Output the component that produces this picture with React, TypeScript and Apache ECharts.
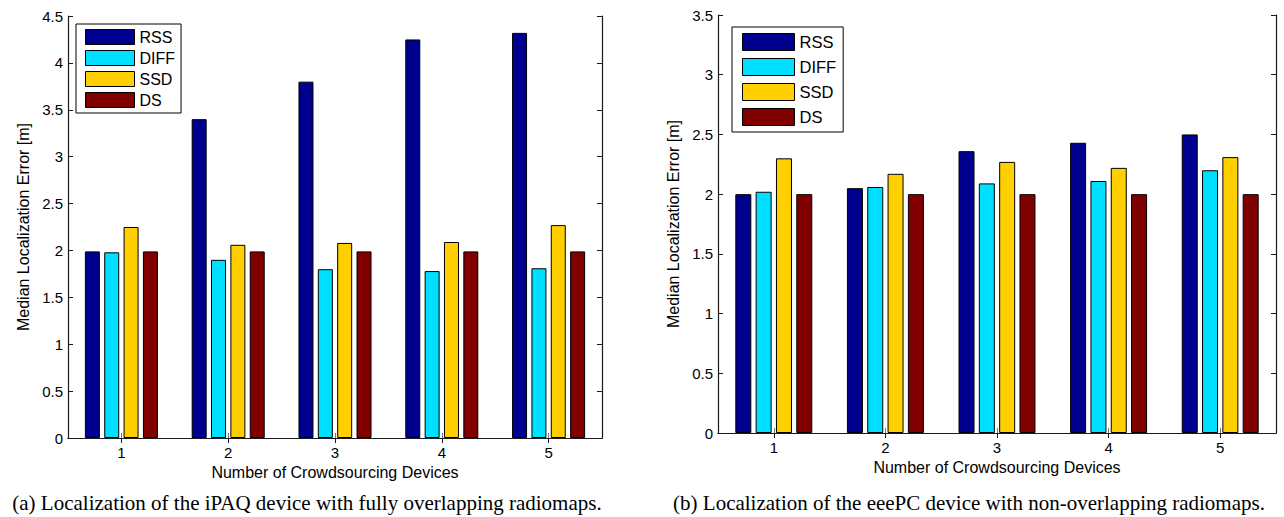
import React, { useEffect, useRef } from "react";
import * as echarts from "echarts";

const categories = ["1", "2", "3", "4", "5"];
const methodNames = ["RSS", "DIFF", "SSD", "DS"];
const methodColors = ["#00008F", "#00DFFF", "#FFCF00", "#800000"];

// (a) iPAQ device, fully overlapping radiomaps
const ipaqRSS = [1.99, 3.4, 3.8, 4.25, 4.32];
const ipaqDIFF = [1.98, 1.9, 1.8, 1.78, 1.81];
const ipaqSSD = [2.25, 2.06, 2.08, 2.09, 2.27];
const ipaqDS = [1.99, 1.99, 1.99, 1.99, 1.99];

// (b) eeePC device, non-overlapping radiomaps
const eeepcRSS = [2.0, 2.05, 2.36, 2.43, 2.5];
const eeepcDIFF = [2.02, 2.06, 2.09, 2.11, 2.2];
const eeepcSSD = [2.3, 2.17, 2.27, 2.22, 2.31];
const eeepcDS = [2.0, 2.0, 2.0, 2.0, 2.0];

const leftYMax = 4.5;
const rightYMax = 3.5;
const yStep = 0.5;

const xTitle = "Number of Crowdsourcing Devices";
const yTitle = "Median Localization Error [m]";
const captionA = "(a) Localization of the iPAQ device with fully overlapping radiomaps.";
const captionB = "(b) Localization of the eeePC device with non-overlapping radiomaps.";

const FONT = "'Liberation Sans', Arial, Helvetica, sans-serif";
const SERIF = "'Liberation Serif', 'Times New Roman', Times, serif";
const AX = "#1a1a1a";

export default function App() {
  const ref = useRef<HTMLDivElement>(null);

  useEffect(() => {
    if (!ref.current) return;
    const chart = echarts.init(ref.current, undefined, { renderer: "svg" });

    const grids = [
      { left: 68, top: 16, width: 534, height: 422 },
      { left: 718, top: 15, width: 558, height: 418 },
    ];

    const bottomX = (gridIndex: number) => ({
      type: "category",
      gridIndex,
      data: categories,
      position: "bottom",
      boundaryGap: true,
      axisLine: { show: true, lineStyle: { color: AX, width: 1.2 } },
      axisTick: { show: true, inside: true, alignWithLabel: true, length: 5, lineStyle: { color: "#777" } },
      axisLabel: { show: true, color: "#000", fontSize: 15, fontFamily: FONT, margin: 7 },
      splitLine: { show: false },
      name: xTitle,
      nameLocation: "middle",
      nameGap: gridIndex === 0 ? 25 : 26,
      nameTextStyle: { color: "#000", fontSize: 16, fontFamily: FONT },
    });
    const topX = (gridIndex: number) => ({
      type: "category",
      gridIndex,
      data: categories,
      position: "top",
      boundaryGap: true,
      axisLine: { show: true, lineStyle: { color: AX, width: 1.2 } },
      axisTick: { show: true, inside: true, alignWithLabel: true, length: 5, lineStyle: { color: AX } },
      axisLabel: { show: false },
      splitLine: { show: false },
    });
    const leftY = (gridIndex: number, max: number) => ({
      type: "value",
      gridIndex,
      min: 0,
      max,
      interval: yStep,
      position: "left",
      axisLine: { show: true, lineStyle: { color: AX, width: 1.2 } },
      axisTick: { show: true, inside: true, length: 5, lineStyle: { color: AX } },
      axisLabel: { show: true, color: "#000", fontSize: 15, fontFamily: FONT, margin: 5 },
      splitLine: { show: false },
      name: yTitle,
      nameLocation: "middle",
      nameGap: 37,
      nameTextStyle: { color: "#000", fontSize: 16, fontFamily: FONT },
    });
    const rightY = (gridIndex: number, max: number) => ({
      type: "value",
      gridIndex,
      min: 0,
      max,
      interval: yStep,
      position: "right",
      axisLine: { show: true, lineStyle: { color: AX, width: 1.2 } },
      axisTick: { show: true, inside: true, length: 5, lineStyle: { color: AX } },
      axisLabel: { show: false },
      splitLine: { show: false },
    });

    const leftData = [ipaqRSS, ipaqDIFF, ipaqSSD, ipaqDS];
    const rightData = [eeepcRSS, eeepcDIFF, eeepcSSD, eeepcDS];

    const makeSeries = (data: number[][], xAxisIndex: number, yAxisIndex: number, barWidth: number, barGap: string) =>
      data.map((values, i) => ({
        type: "bar",
        name: methodNames[i],
        xAxisIndex,
        yAxisIndex,
        data: values,
        barWidth,
        barGap,
        itemStyle: { color: methodColors[i], borderColor: "#000", borderWidth: 1 },
        emphasis: { disabled: true },
      }));

    const legendBase = {
      orient: "vertical",
      data: methodNames,
      icon: "rect",
      borderColor: "#000",
      borderWidth: 1,
      backgroundColor: "#fff",
      itemStyle: { borderColor: "#000", borderWidth: 1 },
      selectedMode: false,
    };

    chart.setOption({
      animation: false,
      backgroundColor: "#fff",
      textStyle: { fontFamily: FONT },
      grid: grids,
      xAxis: [bottomX(0), topX(0), bottomX(1), topX(1)],
      yAxis: [leftY(0, leftYMax), rightY(0, leftYMax), leftY(1, rightYMax), rightY(1, rightYMax)],
      legend: [
        {
          ...legendBase,
          left: 76,
          top: 24,
          itemWidth: 49,
          itemHeight: 15,
          itemGap: 5,
          padding: [5, 6, 5, 9],
          textStyle: { color: "#000", fontSize: 16, fontFamily: FONT },
        },
        {
          ...legendBase,
          left: 732,
          top: 27,
          itemWidth: 52,
          itemHeight: 17,
          itemGap: 7,
          padding: [6, 7, 6, 10],
          textStyle: { color: "#000", fontSize: 16.5, fontFamily: FONT },
        },
      ],
      series: [
        ...makeSeries(leftData, 0, 0, 15, "29%"),
        ...makeSeries(rightData, 2, 2, 16, "27%"),
      ],
      graphic: [
        {
          type: "text",
          x: 307,
          y: 503,
          style: {
            text: captionA,
            fill: "#000",
            font: `21px ${SERIF}`,
            textAlign: "center",
            textVerticalAlign: "middle",
          },
        },
        {
          type: "text",
          x: 969,
          y: 503,
          style: {
            text: captionB,
            fill: "#000",
            font: `21px ${SERIF}`,
            textAlign: "center",
            textVerticalAlign: "middle",
          },
        },
      ],
    });

    return () => chart.dispose();
  }, []);

  return (
    <div
      ref={ref}
      style={{ position: "absolute", left: 0, top: 0, width: 1284, height: 517, background: "#fff" }}
    />
  );
}
